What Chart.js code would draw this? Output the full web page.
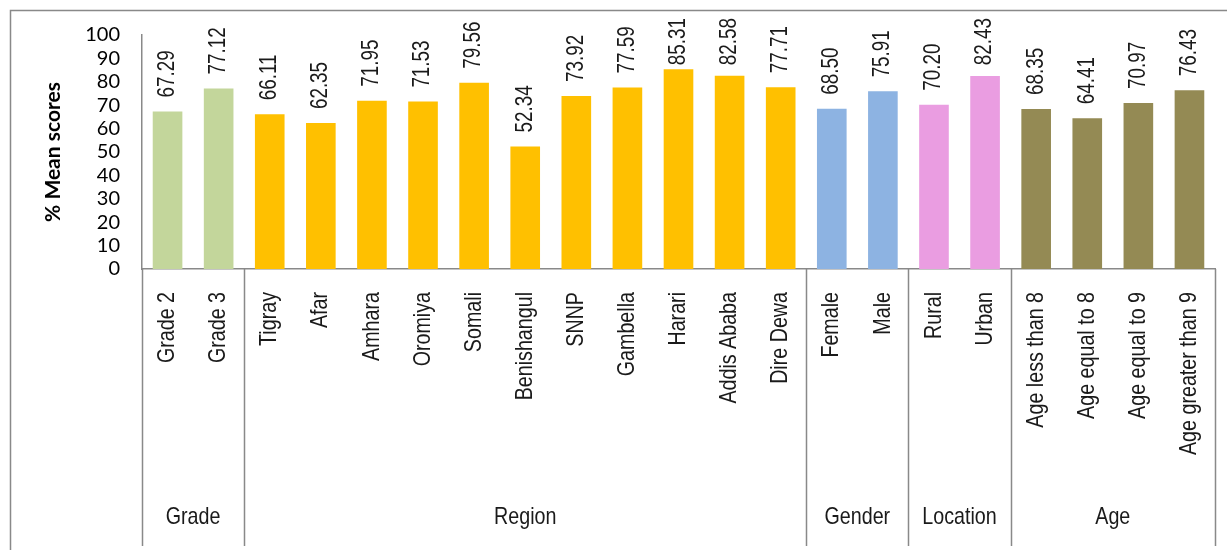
<!DOCTYPE html>
<html>
<head>
<meta charset="utf-8">
<title>Mean scores</title>
<script src="https://cdn.jsdelivr.net/npm/chart.js@4.4.1/dist/chart.umd.min.js"></script>
<style>
  body { margin: 0; background: #fff; }
  canvas { display: block; }
</style>
</head>
<body>
<canvas id="scores" width="1227" height="550"></canvas>
<script>
const categories = ['Grade 2', 'Grade 3',
    'Tigray', 'Afar', 'Amhara', 'Oromiya', 'Somali', 'Benishangul', 'SNNP', 'Gambella', 'Harari', 'Addis Ababa', 'Dire Dewa',
    'Female', 'Male',
    'Rural', 'Urban',
    'Age less than 8', 'Age equal to 8', 'Age equal to 9', 'Age greater than 9']
const scores = [67.29, 77.12,
    66.11, 62.35, 71.95, 71.53, 79.56, 52.34, 73.92, 77.59, 85.31, 82.58, 77.71,
    68.50, 75.91,
    70.20, 82.43,
    68.35, 64.41, 70.97, 76.43]
const groupNames = ['Grade', 'Region', 'Gender', 'Location', 'Age']
const groupSizes = [2, 11, 2, 2, 4]

const groupColors = ['#c3d69b', '#ffc000', '#8db3e2', '#ea9de1', '#948a54']
const lineColor = '#898989'
const textColor = '#1a1a1a'
const sans = "'Liberation Sans', Arial, sans-serif"
const plain = "Lato, 'Open Sans', sans-serif"
const squeeze = 0.82   // fakes a narrow face out of the regular one
const labelTop = 18    // value labels never go above this line

// one colour per bar, taken from the group it belongs to
const barColors = []
groupSizes.forEach((n, g) => {
    for (let i = 0; i < n; i++) barColors.push(groupColors[g])
})

// text along a direction, squeezed along its own baseline
function narrowText(c, text, x, y, angle, align) {
    c.save()
    c.translate(x, y)
    c.rotate(angle)
    c.scale(squeeze, 1)
    c.textAlign = align
    c.fillText(text, 0, 0)
    c.restore()
}

const frame = {
    id: 'frame',
    beforeDraw(chart) {
        const c = chart.ctx
        c.save()
        c.strokeStyle = lineColor
        c.lineWidth = 1.5
        c.beginPath()
        c.moveTo(10.5, chart.height)
        c.lineTo(10.5, 10.5)
        c.lineTo(chart.width, 10.5)
        c.stroke()
        c.restore()
    }
}

const valueLabels = {
    id: 'valueLabels',
    afterDatasetsDraw(chart) {
        const c = chart.ctx
        const meta = chart.getDatasetMeta(0)
        c.save()
        c.fillStyle = textColor
        c.font = '23px ' + sans
        c.textBaseline = 'middle'
        meta.data.forEach((bar, i) => {
            const text = scores[i].toFixed(2)
            const len = c.measureText(text).width * squeeze
            // tall bars push their label down onto the bar top
            const start = Math.max(bar.y - 14, labelTop + len)
            narrowText(c, text, bar.x, start, -Math.PI / 2, 'left')
        })
        c.restore()
    }
}

const groups = {
    id: 'groups',
    afterDraw(chart) {
        const c = chart.ctx
        const x = chart.scales.x
        const area = chart.chartArea
        const bottom = 546

        // category names, rotated and hanging from the axis
        c.save()
        c.fillStyle = textColor
        c.font = '24px ' + sans
        c.textBaseline = 'middle'
        categories.forEach((name, i) => {
            narrowText(c, name, x.getPixelForValue(i), area.bottom + 23, -Math.PI / 2, 'right')
        })

        const edges = [area.left]
        let idx = 0
        groupSizes.forEach(n => {
            idx += n
            if (idx < categories.length) {
                edges.push((x.getPixelForValue(idx - 1) + x.getPixelForValue(idx)) / 2)
            } else {
                edges.push(area.right)
            }
        })
        c.strokeStyle = lineColor
        c.lineWidth = 1.5
        edges.forEach(e => {
            c.beginPath()
            c.moveTo(Math.round(e) + 0.5, area.bottom)
            c.lineTo(Math.round(e) + 0.5, bottom)
            c.stroke()
        })
        groupNames.forEach((name, g) => {
            narrowText(c, name, (edges[g] + edges[g + 1]) / 2, 517, 0, 'center')
        })

        // y axis title
        c.font = 'bold 21px ' + plain
        c.fillStyle = '#000'
        c.textAlign = 'center'
        c.translate(53, 152)
        c.rotate(-Math.PI / 2)
        c.fillText('% Mean scores', 0, 0)
        c.restore()
    }
}

new Chart(document.getElementById('scores').getContext('2d'), {
    type: 'bar',
    data: {
        labels: categories,
        datasets: [{
            data: scores,
            backgroundColor: barColors,
            borderWidth: 0,
            barPercentage: 0.58,
            categoryPercentage: 1
        }]
    },
    options: {
        responsive: false,
        animation: false,
        layout: { padding: { top: 35, right: 12, left: 0, bottom: 0 } },
        plugins: {
            legend: { display: false },
            tooltip: { enabled: false }
        },
        scales: {
            x: {
                grid: { display: false, drawTicks: false },
                border: { color: lineColor, width: 1.5 },
                ticks: { display: false },
                afterFit(scale) { scale.height = 281 }
            },
            y: {
                min: 0,
                max: 100,
                grid: { display: false, drawTicks: false },
                border: { color: lineColor, width: 1.5 },
                ticks: {
                    stepSize: 10,
                    autoSkip: false,
                    padding: 22,
                    color: '#000',
                    font: { family: plain, size: 20 }
                },
                afterFit(scale) { scale.width = 142 }
            }
        }
    },
    plugins: [frame, valueLabels, groups]
})
</script>
</body>
</html>
